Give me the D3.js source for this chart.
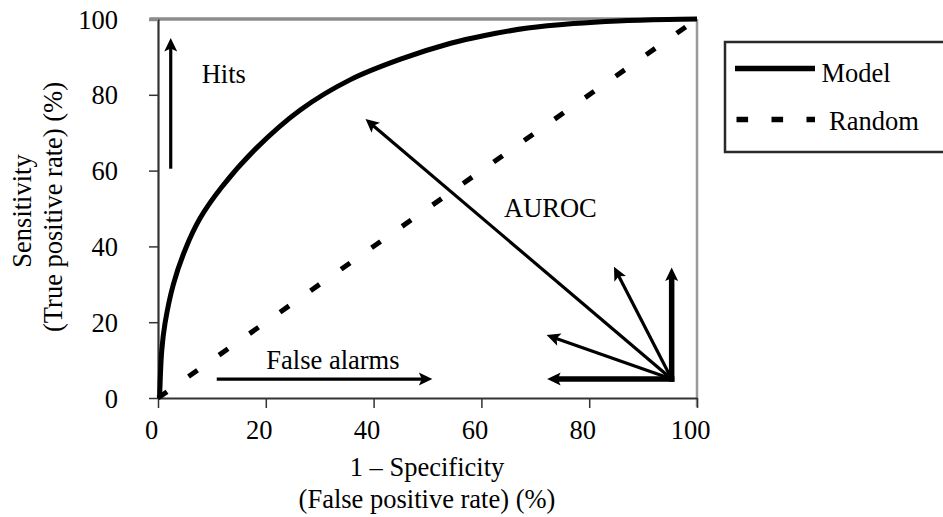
<!DOCTYPE html>
<html>
<head>
<meta charset="utf-8">
<script src="https://cdn.jsdelivr.net/npm/d3@7"></script>
<style>
  html, body { margin: 0; padding: 0; background: #fff; }
  svg { display: block; }
  text { font-family: "Liberation Serif", "Times New Roman", serif; fill: #000; }
</style>
</head>
<body>
<svg id="chart" width="943" height="517"></svg>
<script>
// ---- data ----
const xTicks = [0, 20, 40, 60, 80, 100];
const yTicks = [0, 20, 40, 60, 80, 100];
const modelFPR = [0.3, 0.7, 1.3, 2.85, 5, 7.8, 11.8, 18.3, 26.4, 35.7, 45, 54.3, 60.4, 68.6, 77.1, 85.3, 94.6, 100];
const modelTPR = [0, 12.6, 19.7, 30, 39, 47.4, 55.6, 66, 76, 84, 89.4, 93.6, 95.6, 97.6, 98.8, 99.5, 99.9, 100];
const randomFPR = [0, 100];
const randomTPR = [0, 100];
const seriesNames = ["Model", "Random"];
// annotation arrows (tail -> tip), thick flag
const arrowStartX = [2.36, 10.9, 95.3, 95.3, 95.3, 95.3, 95.3];
const arrowStartY = [60.5, 5, 5, 5, 5, 5, 5];
const arrowTipX   = [2.36, 50.9, 38.5, 95.3, 84.6, 72.1, 72.2];
const arrowTipY   = [95, 5, 73.6, 34.4, 34.6, 16.6, 5];
const arrowThick  = [false, false, false, true, false, false, true];
const annotLabels = ["Hits", "False alarms", "AUROC"];
const annotX = [8.1, 20.1, 64.2];
const annotY = [83.0, 7.6, 47.7];
const xTitle = ["1 \u2013 Specificity", "(False positive rate) (%)"];
const yTitle = ["Sensitivity", "(True positive rate) (%)"];

// ---- layout ----
const svg = d3.select("#chart");
const x = d3.scaleLinear().domain([0, 100]).range([158, 697]);
const y = d3.scaleLinear().domain([0, 100]).range([398, 19]);
const FS = 26.5;

// frame top/right (gray)
svg.append("line").attr("x1", 150).attr("x2", x(100)).attr("y1", y(100)).attr("y2", y(100))
  .attr("stroke", "#8c8c8c").attr("stroke-width", 3.5);
svg.append("line").attr("x1", x(100)).attr("x2", x(100)).attr("y1", y(100)).attr("y2", y(0) + 9)
  .attr("stroke", "#9a9a9a").attr("stroke-width", 2.5);

// axes
const gx = svg.append("g").attr("transform", `translate(0,${y(0)})`)
  .call(d3.axisBottom(x).tickValues(xTicks).tickSize(10).tickSizeOuter(0).tickPadding(12));
const gy = svg.append("g").attr("transform", `translate(${x(0)},0)`)
  .call(d3.axisLeft(y).tickValues(yTicks).tickSize(9).tickSizeOuter(0).tickPadding(31));
[gx, gy].forEach(g => {
  g.select(".domain").attr("stroke", "#333").attr("stroke-width", 2.2);
  g.selectAll(".tick line").attr("stroke", "#333").attr("stroke-width", 1.5);
  g.selectAll(".tick text").style("font-family", '"Liberation Serif", serif')
    .style("font-size", FS + "px").attr("fill", "#000");
});
gx.selectAll(".tick text").attr("dx", -7);
gy.selectAll(".tick text").attr("dy", "0.34em");
gy.selectAll(".tick").filter(d => d === 100).select("line").attr("stroke", "#8c8c8c").attr("stroke-width", 3.5);

// axis titles
svg.append("text").attr("x", 427).attr("y", 476).attr("text-anchor", "middle")
  .style("font-size", FS + "px").text(xTitle[0]);
svg.append("text").attr("x", 427).attr("y", 508).attr("text-anchor", "middle")
  .style("font-size", FS + "px").text(xTitle[1]);
svg.append("text").attr("transform", "translate(31,211) rotate(-90)").attr("text-anchor", "middle")
  .style("font-size", FS + "px").text(yTitle[0]);
svg.append("text").attr("transform", "translate(62,207) rotate(-90)").attr("text-anchor", "middle")
  .style("font-size", FS + "px").text(yTitle[1]);

// random dashed line
const line = d3.line().x(d => x(d[0])).y(d => y(d[1]));
svg.append("path").datum(d3.zip(randomFPR, randomTPR)).attr("d", line)
  .attr("fill", "none").attr("stroke", "#000").attr("stroke-width", 5)
  .attr("stroke-dasharray", "11,26.3");

// model curve
const curve = d3.line().x(d => x(d[0])).y(d => y(d[1])).curve(d3.curveCatmullRom.alpha(0.5));
svg.append("path").datum(d3.zip(modelFPR, modelTPR)).attr("d", curve)
  .attr("fill", "none").attr("stroke", "#000").attr("stroke-width", 5).attr("stroke-linejoin", "round");

// arrows
function arrow(x1, y1, x2, y2, thick) {
  const px1 = x(x1), py1 = y(y1), px2 = x(x2), py2 = y(y2);
  const dx = px2 - px1, dy = py2 - py1, len = Math.hypot(dx, dy);
  const ux = dx / len, uy = dy / len, nx = -uy, ny = ux;
  const L = 13.5, W = 13;
  const sw = thick ? 5.5 : 3.2;
  const back = thick ? 2.75 : 0;
  svg.append("line").attr("x1", px1 - ux * back).attr("y1", py1 - uy * back)
    .attr("x2", px2 - ux * L * 0.7).attr("y2", py2 - uy * L * 0.7)
    .attr("stroke", "#000").attr("stroke-width", sw);
  const pts = [
    [px2, py2],
    [px2 - ux * L + nx * W / 2, py2 - uy * L + ny * W / 2],
    [px2 - ux * L * 0.78, py2 - uy * L * 0.78],
    [px2 - ux * L - nx * W / 2, py2 - uy * L - ny * W / 2]
  ];
  svg.append("path").attr("d", "M" + pts.map(p => p.join(",")).join("L") + "Z").attr("fill", "#000");
}
arrowStartX.forEach((d, i) => arrow(arrowStartX[i], arrowStartY[i], arrowTipX[i], arrowTipY[i], arrowThick[i]));

// annotation labels
annotLabels.forEach((t, i) => {
  svg.append("text").attr("x", x(annotX[i])).attr("y", y(annotY[i]))
    .style("font-size", FS + "px").text(t);
});

// legend
const lg = svg.append("g");
lg.append("rect").attr("x", 725).attr("y", 42).attr("width", 240).attr("height", 110)
  .attr("fill", "#fff").attr("stroke", "#2a2a2a").attr("stroke-width", 2.5);
lg.append("line").attr("x1", 735).attr("x2", 815).attr("y1", 68.5).attr("y2", 68.5)
  .attr("stroke", "#000").attr("stroke-width", 5.5);
lg.append("line").attr("x1", 736.5).attr("x2", 815).attr("y1", 119.5).attr("y2", 119.5)
  .attr("stroke", "#000").attr("stroke-width", 5.5).attr("stroke-dasharray", "11.6,23.4");
lg.append("text").attr("x", 821.5).attr("y", 81.5).style("font-size", FS + "px").text(seriesNames[0]);
lg.append("text").attr("x", 829).attr("y", 130).style("font-size", FS + "px").text(seriesNames[1]);
</script>
</body>
</html>
